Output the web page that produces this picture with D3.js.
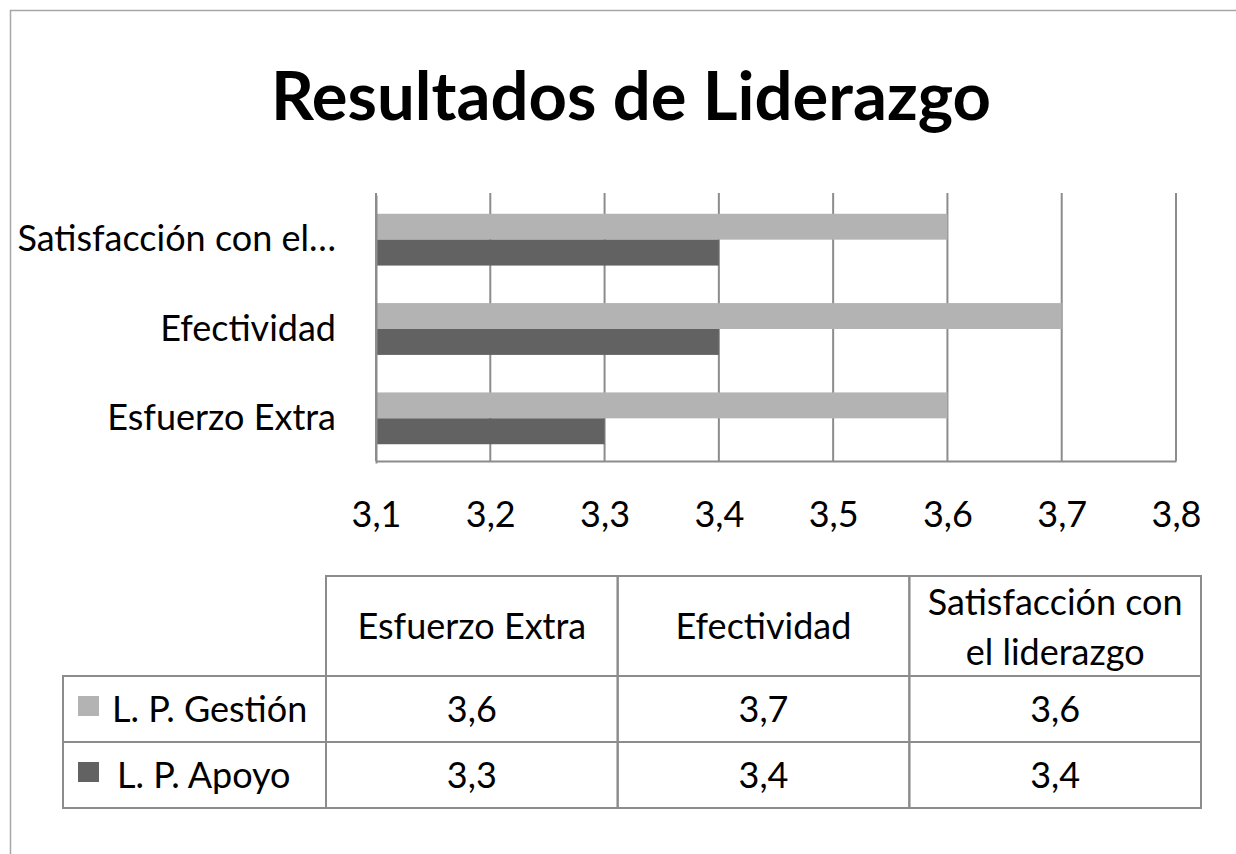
<!DOCTYPE html>
<html>
<head>
<meta charset="utf-8">
<script src="https://cdn.jsdelivr.net/npm/d3@7"></script>
<style>
  body { margin: 0; background: #fff; }
  svg text { font-family: Lato, "Open Sans", sans-serif; fill: #000; }
</style>
</head>
<body>
<svg id="chart"></svg>
<script>
// data
const categories = ["Esfuerzo Extra", "Efectividad", "Satisfacción con el liderazgo"];
const axisLabels = ["Esfuerzo Extra", "Efectividad", "Satisfacción con el…"];
const headerLines = [["Esfuerzo Extra"], ["Efectividad"], ["Satisfacción con", "el liderazgo"]];
const seriesNames = ["L. P. Gestión", "L. P. Apoyo"];
const gestion = [3.6, 3.7, 3.6];
const apoyo = [3.3, 3.4, 3.4];
const xTicks = [3.1, 3.2, 3.3, 3.4, 3.5, 3.6, 3.7, 3.8];
const colors = ["#b3b3b3", "#626262"];

const series = [gestion, apoyo];

const W = 1236, H = 854;
const fmt = d3.formatLocale({decimal: ",", thousands: ".", grouping: [3], currency: ["", ""]}).format(".1f");

const svg = d3.select("#chart").attr("width", W).attr("height", H);

// outer frame of the chart
svg.append("rect")
    .attr("x", 10.5).attr("y", 10.5)
    .attr("width", W + 20).attr("height", H + 20)
    .attr("fill", "none").attr("stroke", "#a6a6a6").attr("stroke-width", 1.5);

// title
svg.append("text")
    .attr("x", 631).attr("y", 120)
    .attr("text-anchor", "middle")
    .style("font-size", "67px").style("font-weight", "bold")
    .text("Resultados de Liderazgo");

// scales
const plot = {left: 376, right: 1176, top: 193, bottom: 461};
const xScale = d3.scaleLinear().domain([3.1, 3.8]).range([plot.left, plot.right]);
const yScale = d3.scaleBand()
    .domain(categories.slice().reverse())
    .range([plot.top + 2, plot.bottom + 2])
    .paddingInner(0.42).paddingOuter(0.21);
const ySub = d3.scaleBand().domain([0, 1]).range([0, yScale.bandwidth()]);

// vertical grid lines
svg.append("g").selectAll("line")
    .data(xTicks)
    .join("line")
    .attr("x1", d => xScale(d)).attr("x2", d => xScale(d))
    .attr("y1", plot.top).attr("y2", plot.bottom)
    .attr("stroke", "#8c8c8c").attr("stroke-width", 2);

// bars
series.forEach((vals, s) => {
    svg.append("g").selectAll("rect")
        .data(vals)
        .join("rect")
        .attr("x", xScale(3.1))
        .attr("y", (d, i) => yScale(categories[i]) + ySub(s))
        .attr("width", d => xScale(d) - xScale(3.1))
        .attr("height", ySub.bandwidth())
        .attr("fill", colors[s]);
});

// x axis (bottom) with labels only
const xAxis = svg.append("g")
    .attr("transform", "translate(0," + plot.bottom + ")")
    .call(d3.axisBottom(xScale).tickValues(xTicks).tickFormat(fmt).tickSize(0).tickPadding(40));
xAxis.select(".domain").attr("stroke", "#8c8c8c").attr("stroke-width", 2);
xAxis.selectAll("text").style("font-size", "36px").attr("font-family", null);

// y axis with category labels
const yAxis = svg.append("g")
    .attr("transform", "translate(" + plot.left + ",0)")
    .call(d3.axisLeft(yScale).tickSize(0).tickPadding(40)
        .tickFormat(d => axisLabels[categories.indexOf(d)]));
yAxis.select(".domain").attr("stroke", "#8c8c8c").attr("stroke-width", 2);
yAxis.selectAll("text").style("font-size", "36px").attr("font-family", null);

// data table below the chart
const colX = d3.scaleBand().domain(categories).range([326, 1201]);
const rowTop = [576, 676, 742, 808];
const tbl = svg.append("g");
const stroke = "#8c8c8c";

// header cells
tbl.selectAll(".hcell")
    .data(categories)
    .join("rect")
    .attr("x", d => colX(d)).attr("y", rowTop[0])
    .attr("width", colX.bandwidth()).attr("height", rowTop[1] - rowTop[0])
    .attr("fill", "none").attr("stroke", stroke).attr("stroke-width", 2);

headerLines.forEach((lines, i) => {
    const cx = colX(categories[i]) + colX.bandwidth() / 2;
    const base = lines.length === 1 ? [639] : [615, 665];
    lines.forEach((ln, j) => {
        tbl.append("text")
            .attr("x", cx).attr("y", base[j])
            .attr("text-anchor", "middle")
            .style("font-size", "36px")
            .text(ln);
    });
});

// series rows
series.forEach((vals, s) => {
    const y0 = rowTop[s + 1], y1 = rowTop[s + 2];
    tbl.append("rect")
        .attr("x", 63).attr("y", y0)
        .attr("width", 326 - 63).attr("height", y1 - y0)
        .attr("fill", "none").attr("stroke", stroke).attr("stroke-width", 2);
    tbl.append("rect")
        .attr("x", 78).attr("y", y0 + 20)
        .attr("width", 21).attr("height", 20)
        .attr("fill", colors[s]);
    tbl.append("text")
        .attr("x", s === 0 ? 112 : 117).attr("y", y0 + 46)
        .style("font-size", "36px")
        .text(seriesNames[s]);

    tbl.selectAll(".cell" + s)
        .data(vals)
        .join("rect")
        .attr("x", (d, i) => colX(categories[i])).attr("y", y0)
        .attr("width", colX.bandwidth()).attr("height", y1 - y0)
        .attr("fill", "none").attr("stroke", stroke).attr("stroke-width", 2);
    tbl.selectAll(".val" + s)
        .data(vals)
        .join("text")
        .attr("x", (d, i) => colX(categories[i]) + colX.bandwidth() / 2)
        .attr("y", y0 + 46)
        .attr("text-anchor", "middle")
        .style("font-size", "36px")
        .text(d => fmt(d));
});
</script>
</body>
</html>
